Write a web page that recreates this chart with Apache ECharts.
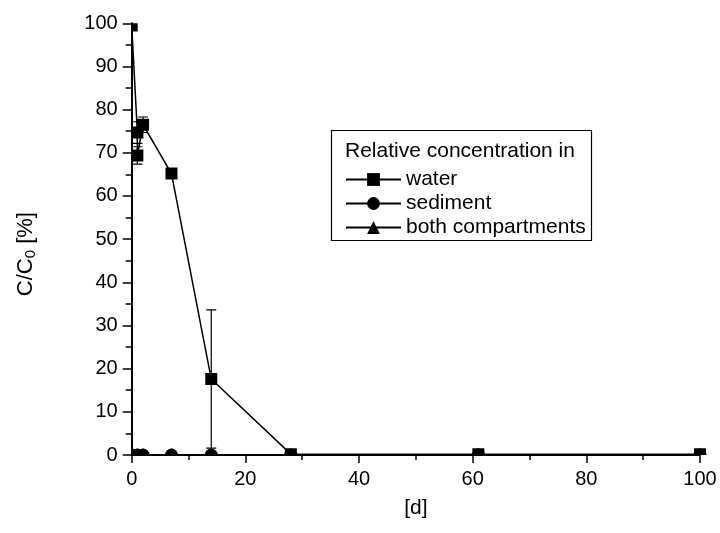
<!DOCTYPE html>
<html>
<head>
<meta charset="utf-8">
<script src="https://cdn.jsdelivr.net/npm/echarts@6/dist/echarts.min.js"></script>
<style>
  html, body { margin: 0; padding: 0; background: #fff; }
  #chart { width: 720px; height: 533px; }
</style>
</head>
<body>
<div id="chart"></div>
<script>
// days and relative concentration values
const waterDays = [0, 1, 1, 2, 7, 14, 28, 61, 100];
const waterVals = [99.5, 74.7, 69.4, 76.5, 65.2, 17.6, 0.2, 0.2, 0.2];
const waterErr = [0, 2.5, 2, 1.8, 0.8, 16, 0, 0, 0];

const sedimentDays = [0, 1, 2, 7, 14, 28, 61, 100];
const sedimentVals = [0, 0, 0, 0, 0, 0, 0, 0];

const bothDays = [0, 1, 2, 7, 14, 28, 61, 100];
const bothVals = [0, 0, 0, 0, 0, 0, 0, 0];

const legendTitle = 'Relative concentration in';
const seriesNames = ['water', 'sediment', 'both compartments'];

const font = 'Liberation Sans, Arial, sans-serif';
const chart = echarts.init(document.getElementById('chart'));

const pairs = (xs, ys) => xs.map((x, i) => [x, ys[i]]);
const errData = waterDays.map((d, i) => [d, waterVals[i] - waterErr[i], waterVals[i] + waterErr[i]])
    .filter((e, i) => waterErr[i] > 0);

// markers are cut at the left, top and bottom of the plot, not at the right
const clipFor = cs => ({ type: 'rect', shape: { x: cs.x, y: cs.y, width: cs.width + 20, height: cs.height } });

const markerSeries = (shape, data, size, z) => ({
    type: 'custom', silent: true, clip: false, z: z,
    data: data,
    renderItem: (params, api) => {
        const p = api.coord([api.value(0), api.value(1)]);
        const h = size / 2;
        const style = { fill: '#000' };
        const clipPath = clipFor(params.coordSys);
        if (shape === 'rect') {
            return { type: 'rect', shape: { x: p[0] - h, y: p[1] - h, width: size, height: size }, style: style, clipPath: clipPath };
        }
        if (shape === 'circle') {
            return { type: 'circle', shape: { cx: p[0], cy: p[1], r: h }, style: style, clipPath: clipPath };
        }
        return {
            type: 'polygon',
            shape: { points: [[p[0], p[1] - h], [p[0] + h, p[1] + h * 0.8], [p[0] - h, p[1] + h * 0.8]] },
            style: style, clipPath: clipPath
        };
    }
});

const lineSeries = (name, symbol, data) => ({
    name: name, type: 'line', data: data,
    symbol: symbol, showSymbol: false, clip: true, z: 2,
    lineStyle: { color: '#000', width: 1.5 }, itemStyle: { color: '#000' }
});

const option = {
    animation: false,
    backgroundColor: '#fff',
    grid: { left: 131.7, right: 20, top: 23.3, bottom: 78 },
    xAxis: {
        type: 'value', min: 0, max: 100, interval: 20,
        name: '[d]', nameLocation: 'middle', nameGap: 43,
        nameTextStyle: { fontFamily: font, fontSize: 21, color: '#000' },
        axisLine: { lineStyle: { color: '#000', width: 2 } },
        axisTick: { length: 8, lineStyle: { color: '#000', width: 1.5 } },
        minorTick: { show: true, splitNumber: 2, length: 5, lineStyle: { color: '#000', width: 1.5 } },
        axisLabel: { fontFamily: font, fontSize: 20, color: '#000', margin: 14 },
        splitLine: { show: false }
    },
    yAxis: {
        type: 'value', min: 0, max: 100, interval: 10,
        name: '{a|C/C}{s|0}{a| [%]}', nameLocation: 'middle', nameGap: 93, nameRotate: 90,
        nameTextStyle: {
            padding: [0, 30, 0, 0],
            rich: {
                a: { fontFamily: font, fontSize: 22, color: '#000' },
                s: { fontFamily: font, fontSize: 15, color: '#000', verticalAlign: 'bottom', padding: [11, 0, 0, 0] }
            }
        },
        axisLine: { show: true, lineStyle: { color: '#000', width: 2 } },
        axisTick: { length: 9, lineStyle: { color: '#000', width: 1.5 } },
        minorTick: { show: true, splitNumber: 2, length: 6, lineStyle: { color: '#000', width: 1.5 } },
        axisLabel: { fontFamily: font, fontSize: 20, color: '#000', margin: 14 },
        splitLine: { show: false }
    },
    legend: {
        orient: 'vertical', left: 345, top: 169, itemGap: 3, padding: 0,
        itemWidth: 55, itemHeight: 16,
        textStyle: { fontFamily: font, fontSize: 21, lineHeight: 20, color: '#000' },
        data: seriesNames
    },
    graphic: [
        {
            type: 'rect', left: 329, top: 128,
            shape: { width: 260, height: 110 },
            style: { fill: 'none', stroke: '#000', lineWidth: 1.2 }
        },
        {
            type: 'text', left: 345, top: 141,
            style: { text: legendTitle, fontFamily: font, fontSize: 21, fill: '#000' }
        }
    ],
    series: [
        {
            name: 'err', type: 'custom', silent: true, z: 1, clip: true,
            data: errData,
            renderItem: (params, api) => {
                const lo = api.coord([api.value(0), api.value(1)]);
                const hi = api.coord([api.value(0), api.value(2)]);
                const w = 5;
                const st = { stroke: '#000', lineWidth: 1.2 };
                return {
                    type: 'group',
                    children: [
                        { type: 'line', shape: { x1: lo[0], y1: lo[1], x2: hi[0], y2: hi[1] }, style: st },
                        { type: 'line', shape: { x1: hi[0] - w, y1: hi[1], x2: hi[0] + w, y2: hi[1] }, style: st },
                        { type: 'line', shape: { x1: lo[0] - w, y1: lo[1], x2: lo[0] + w, y2: lo[1] }, style: st }
                    ]
                };
            }
        },
        lineSeries(seriesNames[0], 'rect', pairs(waterDays, waterVals)),
        lineSeries(seriesNames[1], 'circle', pairs(sedimentDays, sedimentVals)),
        lineSeries(seriesNames[2], 'triangle', pairs(bothDays, bothVals)),
        markerSeries('circle', pairs(sedimentDays, sedimentVals), 13, 3),
        markerSeries('triangle', pairs(bothDays, bothVals), 14, 3),
        markerSeries('rect', pairs(waterDays, waterVals), 12, 4)
    ]
};

chart.setOption(option);
</script>
</body>
</html>
